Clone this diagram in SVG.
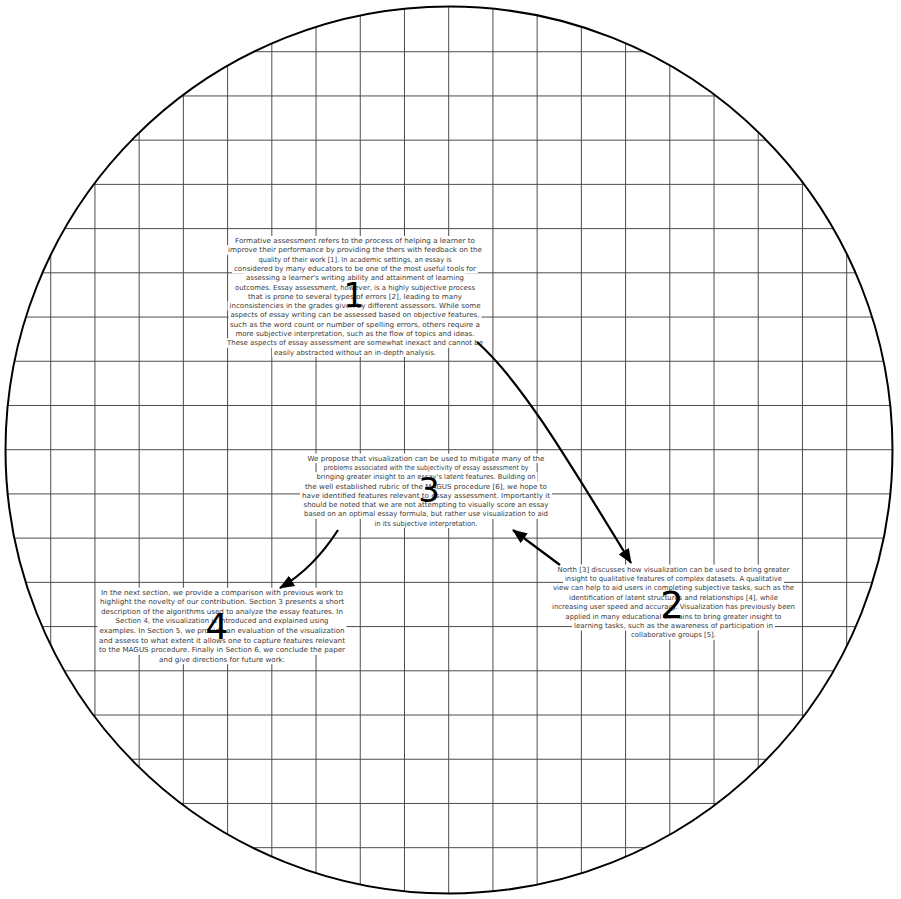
<svg xmlns="http://www.w3.org/2000/svg" width="901" height="899" viewBox="0 0 901 899">
<style>
.bg{fill:#fff}
.t{font-family:"DejaVu Sans","Liberation Sans",sans-serif;font-size:7px;fill:#3a3a3a;text-anchor:middle}
.n{font-family:"DejaVu Sans","Liberation Sans",sans-serif;fill:#000;text-anchor:middle}
.grid{stroke:#4d4d4d;stroke-width:1;fill:none}
.edge{stroke:#000;stroke-width:2.2;fill:none}
</style>
<defs>
<clipPath id="cc"><circle cx="449" cy="450" r="443.5"/></clipPath>
<marker id="ah" markerWidth="16" markerHeight="12" refX="14" refY="6" orient="auto" markerUnits="userSpaceOnUse">
<path d="M0,0 L15,6 L0,12 Z" fill="#000"/>
</marker>
</defs>
<rect width="901" height="899" fill="#fff"/>
<g id="grid" clip-path="url(#cc)">
<path class="grid" d="M50.72,0V899M94.94,0V899M139.16,0V899M183.38,0V899M227.6,0V899M271.82,0V899M316.04,0V899M360.26,0V899M404.48,0V899M448.7,0V899M492.92,0V899M537.14,0V899M581.36,0V899M625.58,0V899M669.8,0V899M714.02,0V899M758.24,0V899M802.46,0V899M846.68,0V899
M0,51.72H901M0,95.94H901M0,140.16H901M0,184.38H901M0,228.6H901M0,272.82H901M0,317.04H901M0,361.26H901M0,405.48H901M0,449.7H901M0,493.92H901M0,538.14H901M0,582.36H901M0,626.58H901M0,670.8H901M0,715.02H901M0,759.24H901M0,803.46H901M0,847.68H901"/>
</g>
<circle cx="449" cy="450" r="443.5" fill="none" stroke="#000" stroke-width="2"/>

<g id="node1">
<rect class="bg" x="233" y="236.0" width="244" height="9.5"/>
<rect class="bg" x="226" y="245.3" width="258" height="9.5"/>
<rect class="bg" x="256.5" y="254.6" width="197" height="9.5"/>
<rect class="bg" x="232" y="263.9" width="246" height="9.5"/>
<rect class="bg" x="244" y="273.2" width="222" height="9.5"/>
<rect class="bg" x="233" y="282.5" width="244" height="9.5"/>
<rect class="bg" x="246" y="291.8" width="218" height="9.5"/>
<rect class="bg" x="227.5" y="301.1" width="255" height="9.5"/>
<rect class="bg" x="228.5" y="310.4" width="253" height="9.5"/>
<rect class="bg" x="228" y="319.7" width="254" height="9.5"/>
<rect class="bg" x="233.5" y="329.0" width="243" height="9.5"/>
<rect class="bg" x="225" y="338.3" width="260" height="9.5"/>
<rect class="bg" x="272" y="347.6" width="166" height="9.4"/>
<text class="t" x="355" y="243.0" textLength="240" lengthAdjust="spacingAndGlyphs">Formative assessment refers to the process of helping a learner to</text>
<text class="t" x="355" y="252.3" textLength="254" lengthAdjust="spacingAndGlyphs">improve their performance by providing the thers with feedback on the</text>
<text class="t" x="355" y="261.6" textLength="193" lengthAdjust="spacingAndGlyphs">quality of their work [1]. In academic settings, an essay is</text>
<text class="t" x="355" y="270.9" textLength="242" lengthAdjust="spacingAndGlyphs">considered by many educators to be one of the most useful tools for</text>
<text class="t" x="355" y="280.2" textLength="218" lengthAdjust="spacingAndGlyphs">assessing a learner's writing ability and attainment of learning</text>
<text class="t" x="355" y="289.5" textLength="240" lengthAdjust="spacingAndGlyphs">outcomes. Essay assessment, however, is a highly subjective process</text>
<text class="t" x="355" y="298.8" textLength="214" lengthAdjust="spacingAndGlyphs">that is prone to several types of errors [2], leading to many</text>
<text class="t" x="355" y="308.1" textLength="251" lengthAdjust="spacingAndGlyphs">inconsistencies in the grades given by different assessors. While some</text>
<text class="t" x="355" y="317.4" textLength="249" lengthAdjust="spacingAndGlyphs">aspects of essay writing can be assessed based on objective features,</text>
<text class="t" x="355" y="326.7" textLength="250" lengthAdjust="spacingAndGlyphs">such as the word count or number of spelling errors, others require a</text>
<text class="t" x="355" y="336.0" textLength="239" lengthAdjust="spacingAndGlyphs">more subjective interpretation, such as the flow of topics and ideas.</text>
<text class="t" x="355" y="345.3" textLength="256" lengthAdjust="spacingAndGlyphs">These aspects of essay assessment are somewhat inexact and cannot be</text>
<text class="t" x="355" y="354.6" textLength="162" lengthAdjust="spacingAndGlyphs">easily abstracted without an in-depth analysis.</text>
<text class="n" x="354" y="307" font-size="33">1</text>
</g>

<g id="node3">
<rect class="bg" x="305.5" y="453.6" width="241" height="9.5"/>
<rect class="bg" x="321.5" y="462.9" width="209" height="9.5"/>
<rect class="bg" x="314.5" y="472.2" width="223" height="9.5"/>
<rect class="bg" x="303" y="481.5" width="246" height="9.5"/>
<rect class="bg" x="300" y="490.8" width="252" height="9.5"/>
<rect class="bg" x="301.5" y="500.1" width="249" height="9.5"/>
<rect class="bg" x="302" y="509.4" width="248" height="9.5"/>
<rect class="bg" x="372.5" y="518.7" width="107" height="9.4"/>
<text class="t" x="426" y="460.6" textLength="237" lengthAdjust="spacingAndGlyphs">We propose that visualization can be used to mitigate many of the</text>
<text class="t" x="426" y="469.9" textLength="205" lengthAdjust="spacingAndGlyphs">problems associated with the subjectivity of essay assessment by</text>
<text class="t" x="426" y="479.2" textLength="219" lengthAdjust="spacingAndGlyphs">bringing greater insight to an essay's latent features. Building on</text>
<text class="t" x="426" y="488.5" textLength="242" lengthAdjust="spacingAndGlyphs">the well established rubric of the MAGUS procedure [6], we hope to</text>
<text class="t" x="426" y="497.8" textLength="248" lengthAdjust="spacingAndGlyphs">have identified features relevant to essay assessment. Importantly it</text>
<text class="t" x="426" y="507.1" textLength="245" lengthAdjust="spacingAndGlyphs">should be noted that we are not attempting to visually score an essay</text>
<text class="t" x="426" y="516.4" textLength="244" lengthAdjust="spacingAndGlyphs">based on an optimal essay formula, but rather use visualization to aid</text>
<text class="t" x="426" y="525.7" textLength="103" lengthAdjust="spacingAndGlyphs">in its subjective interpretation.</text>
<text class="n" x="429" y="502" font-size="34">3</text>
</g>

<g id="node4">
<rect class="bg" x="99" y="587.8" width="246" height="9.7"/>
<rect class="bg" x="98" y="597.35" width="248" height="9.7"/>
<rect class="bg" x="99" y="606.9" width="246" height="9.7"/>
<rect class="bg" x="113.5" y="616.45" width="217" height="9.7"/>
<rect class="bg" x="97.5" y="626.0" width="249" height="9.7"/>
<rect class="bg" x="97" y="635.55" width="250" height="9.7"/>
<rect class="bg" x="97" y="645.1" width="250" height="9.7"/>
<rect class="bg" x="157" y="654.65" width="130" height="9.6"/>
<text class="t" x="222" y="594.8" textLength="242" lengthAdjust="spacingAndGlyphs">In the next section, we provide a comparison with previous work to</text>
<text class="t" x="222" y="604.35" textLength="244" lengthAdjust="spacingAndGlyphs">highlight the novelty of our contribution. Section 3 presents a short</text>
<text class="t" x="222" y="613.9" textLength="242" lengthAdjust="spacingAndGlyphs">description of the algorithms used to analyze the essay features. In</text>
<text class="t" x="222" y="623.45" textLength="213" lengthAdjust="spacingAndGlyphs">Section 4, the visualization is introduced and explained using</text>
<text class="t" x="222" y="633.0" textLength="245" lengthAdjust="spacingAndGlyphs">examples. In Section 5, we provide an evaluation of the visualization</text>
<text class="t" x="222" y="642.55" textLength="246" lengthAdjust="spacingAndGlyphs">and assess to what extent it allows one to capture features relevant</text>
<text class="t" x="222" y="652.1" textLength="246" lengthAdjust="spacingAndGlyphs">to the MAGUS procedure. Finally in Section 6, we conclude the paper</text>
<text class="t" x="222" y="661.65" textLength="126" lengthAdjust="spacingAndGlyphs">and give directions for future work.</text>
<text class="n" x="217" y="639" font-size="36">4</text>
</g>

<g id="node2">
<rect class="bg" x="555.5" y="564.6" width="236" height="9.5"/>
<rect class="bg" x="563" y="574.0" width="221" height="9.5"/>
<rect class="bg" x="551" y="583.4" width="245" height="9.5"/>
<rect class="bg" x="567" y="592.8" width="213" height="9.5"/>
<rect class="bg" x="550" y="602.2" width="247" height="9.5"/>
<rect class="bg" x="563.5" y="611.6" width="220" height="9.5"/>
<rect class="bg" x="572" y="621.0" width="203" height="9.5"/>
<rect class="bg" x="629" y="630.4" width="89" height="9.4"/>
<text class="t" x="673.5" y="571.6" textLength="232" lengthAdjust="spacingAndGlyphs">North [3] discusses how visualization can be used to bring greater</text>
<text class="t" x="673.5" y="581.0" textLength="217" lengthAdjust="spacingAndGlyphs">insight to qualitative features of complex datasets. A qualitative</text>
<text class="t" x="673.5" y="590.4" textLength="241" lengthAdjust="spacingAndGlyphs">view can help to aid users in completing subjective tasks, such as the</text>
<text class="t" x="673.5" y="599.8" textLength="209" lengthAdjust="spacingAndGlyphs">identification of latent structures and relationships [4], while</text>
<text class="t" x="673.5" y="609.2" textLength="243" lengthAdjust="spacingAndGlyphs">increasing user speed and accuracy. Visualization has previously been</text>
<text class="t" x="673.5" y="618.6" textLength="216" lengthAdjust="spacingAndGlyphs">applied in many educational domains to bring greater insight to</text>
<text class="t" x="673.5" y="628.0" textLength="199" lengthAdjust="spacingAndGlyphs">learning tasks, such as the awareness of participation in</text>
<text class="t" x="673.5" y="637.4" textLength="85" lengthAdjust="spacingAndGlyphs">collaborative groups [5].</text>
<text class="n" x="672" y="618" font-size="37">2</text>
</g>

<g id="connectors">
<path class="edge" d="M477,342 C520,380 565,455 631,563" marker-end="url(#ah)"/>
<path class="edge" d="M560,565 L513,530" marker-end="url(#ah)"/>
<path class="edge" d="M338,530 C322,555 302,575 280,588" marker-end="url(#ah)"/>
</g>
</svg>
